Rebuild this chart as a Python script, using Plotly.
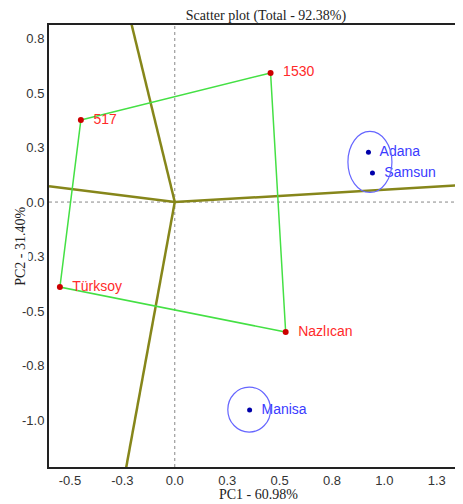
import plotly.graph_objects as go

# Genotypes (polygon vertices)
gen_names = ["517", "1530", "Nazlıcan", "Türksoy"]
gen_x = [-0.448, 0.457, 0.529, -0.548]
gen_y = [0.376, 0.592, -0.596, -0.390]

# Environments
env_names = ["Adana", "Samsun", "Manisa"]
env_x = [0.924, 0.943, 0.357]
env_y = [0.229, 0.133, -0.954]

# Sector rays from origin (end points at plot edges)
ray_x = [-0.215, -0.60, 1.40, -0.238]
ray_y = [0.85, 0.073, 0.079, -1.25]

# Ellipses: center x, center y, half-width, half-height
ell_cx = [0.931, 0.355]
ell_cy = [0.184, -0.952]
ell_rx = [0.105, 0.102]
ell_ry = [0.140, 0.103]

xtick_vals = [-0.5, -0.25, 0.0, 0.25, 0.5, 0.75, 1.0, 1.25]
xtick_text = ["-0.5", "-0.3", "0.0", "0.3", "0.5", "0.8", "1.0", "1.3"]
ytick_vals = [0.75, 0.5, 0.25, 0.0, -0.25, -0.5, -0.75, -1.0]
ytick_text = ["0.8", "0.5", "0.3", "0.0", "-0.3", "-0.5", "-0.8", "-1.0"]

fig = go.Figure()

# Rays
for rx, ry in zip(ray_x, ray_y):
    fig.add_trace(go.Scatter(x=[0, rx], y=[0, ry], mode="lines",
                             line=dict(color="#86861a", width=2.5),
                             hoverinfo="skip", showlegend=False))

# Polygon
px = gen_x + [gen_x[0]]
py = gen_y + [gen_y[0]]
fig.add_trace(go.Scatter(x=px, y=py, mode="lines",
                         line=dict(color="#44e044", width=1.5),
                         hoverinfo="skip", showlegend=False))

# Genotype points
fig.add_trace(go.Scatter(x=gen_x, y=gen_y, mode="markers+text",
                         text=["  " + n for n in gen_names],
                         textposition="middle right",
                         textfont=dict(family="Liberation Sans, Arial", size=14, color="#ff2a2a"),
                         marker=dict(color="#cc0000", size=6),
                         showlegend=False))

# Environment points
fig.add_trace(go.Scatter(x=env_x, y=env_y, mode="markers+text",
                         text=["  " + n for n in env_names],
                         textposition="middle right",
                         textfont=dict(family="Liberation Sans, Arial", size=14, color="#3a3aff"),
                         marker=dict(color="#0000aa", size=5),
                         showlegend=False))

shapes = []
for cx, cy, rx, ry in zip(ell_cx, ell_cy, ell_rx, ell_ry):
    shapes.append(dict(type="circle", xref="x", yref="y",
                       x0=cx - rx, x1=cx + rx, y0=cy - ry, y1=cy + ry,
                       line=dict(color="#6666ff", width=1.2), layer="above"))
# dotted zero lines
shapes.append(dict(type="line", xref="x", yref="paper", x0=0, x1=0, y0=0, y1=1,
                   line=dict(color="#888888", width=1, dash="dot"), layer="below"))
shapes.append(dict(type="line", xref="paper", yref="y", x0=0, x1=1, y0=0, y1=0,
                   line=dict(color="#888888", width=1, dash="dot"), layer="below"))

serif = dict(family="Liberation Serif, Times New Roman", size=14, color="#222222")

fig.update_layout(
    width=455, height=496,
    margin=dict(l=41, r=0, t=17, b=37),
    paper_bgcolor="white", plot_bgcolor="white",
    shapes=shapes,
    title=dict(text="Scatter plot (Total - 92.38%)", x=0.567, xanchor="center",
               y=0.986, yanchor="middle", font=serif),
    xaxis=dict(range=[-0.6, 1.375], tickvals=xtick_vals, ticktext=xtick_text,
               showgrid=False, zeroline=False, showline=True, linecolor="#222222",
               linewidth=2, mirror=True, ticks="", automargin=False,
               tickfont=dict(family="Liberation Sans, Arial", size=13, color="#333333")),
    yaxis=dict(range=[-1.215, 0.812], tickvals=ytick_vals, ticktext=ytick_text,
               showgrid=False, zeroline=False, showline=True, linecolor="#222222",
               linewidth=2, ticks="", automargin=False,
               tickfont=dict(family="Liberation Sans, Arial", size=13, color="#333333")),
    annotations=[
        dict(text="PC2 - 31.40%", xref="paper", yref="paper",
             x=-0.0705, y=0.5, xanchor="center", yanchor="middle",
             textangle=-90, showarrow=False, bgcolor="white", borderpad=0, font=serif),
        dict(text="PC1 - 60.98%", xref="paper", yref="paper",
             x=0.505, y=-0.063, xanchor="center", yanchor="middle",
             showarrow=False, font=serif),
    ],
)

fig.write_html("out.html")
